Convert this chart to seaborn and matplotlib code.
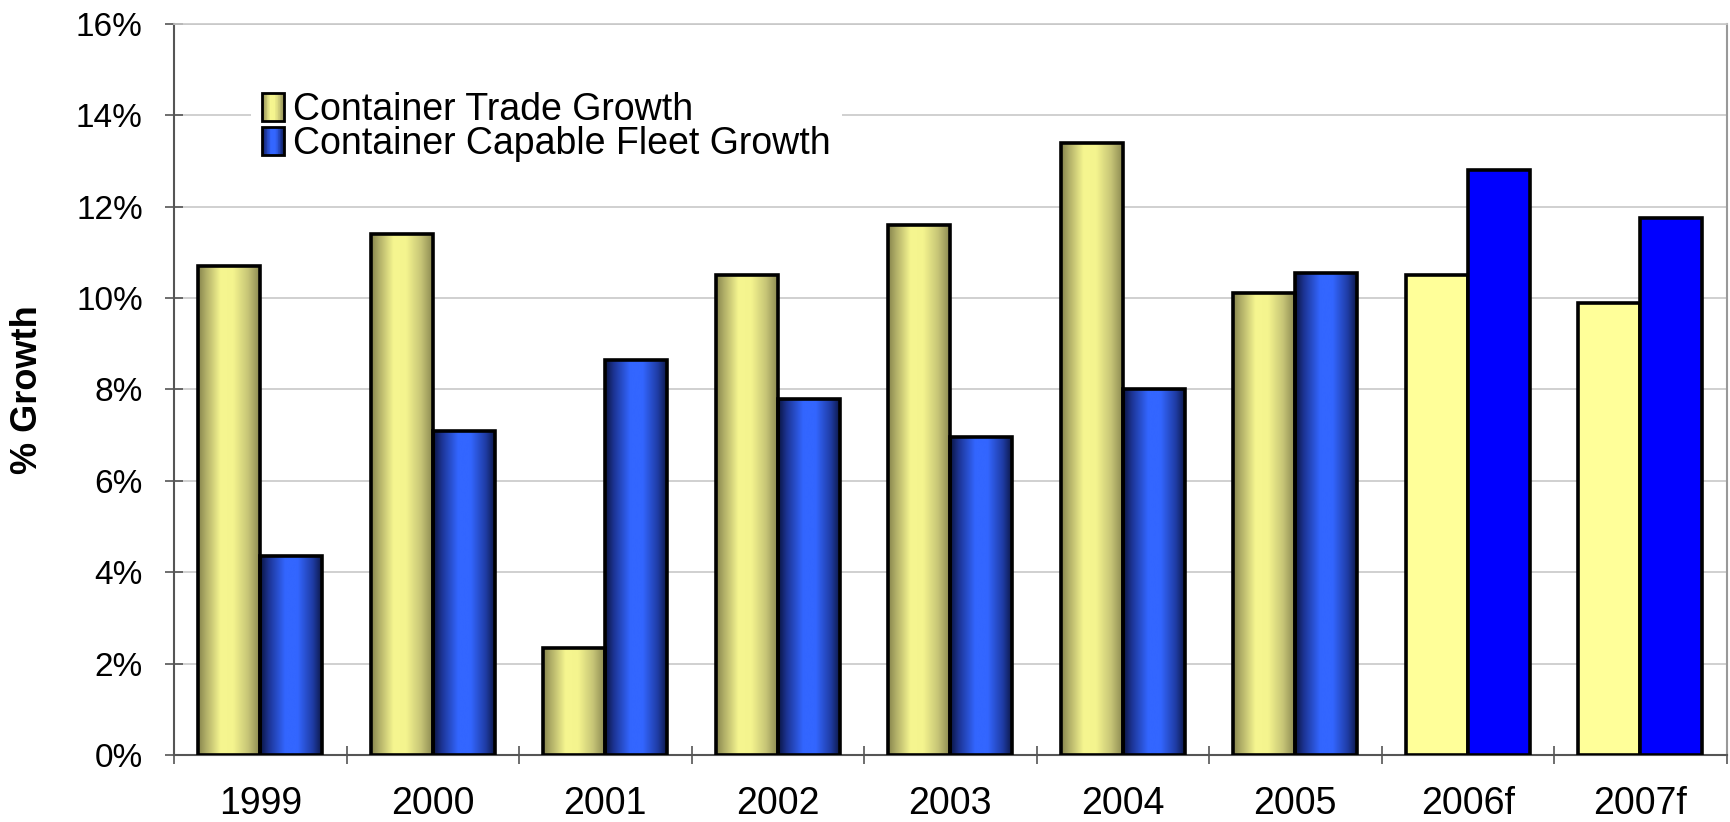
import numpy as np
import pandas as pd
import matplotlib
matplotlib.use("Agg")
import matplotlib.pyplot as plt
import seaborn as sns
from matplotlib.colors import LinearSegmentedColormap
from matplotlib.patches import Rectangle
from matplotlib.legend_handler import HandlerBase
from matplotlib.ticker import FixedLocator

# ---- data ----
years = ["1999", "2000", "2001", "2002", "2003", "2004", "2005", "2006f", "2007f"]
trade_growth = [10.7, 11.4, 2.35, 10.5, 11.6, 13.4, 10.1, 10.5, 9.9]
fleet_growth = [4.35, 7.1, 8.65, 7.8, 6.95, 8.0, 10.55, 12.8, 11.75]
series_names = ["Container Trade Growth", "Container Capable Fleet Growth"]
forecast_years = ["2006f", "2007f"]
y_ticks = [0, 2, 4, 6, 8, 10, 12, 14, 16]
y_tick_labels = ["0%", "2%", "4%", "6%", "8%", "10%", "12%", "14%", "16%"]

sns.set_theme(style="white")
plt.rcParams['font.family'] = ['Liberation Sans', 'DejaVu Sans']
plt.rcParams['text.color'] = 'black'
plt.rcParams['axes.labelcolor'] = 'black'
plt.rcParams['xtick.color'] = 'black'
plt.rcParams['ytick.color'] = 'black'

df = pd.DataFrame({
    "Year": years * 2,
    "Growth": trade_growth + fleet_growth,
    "Series": [series_names[0]] * len(years) + [series_names[1]] * len(years),
})

solid_colors = ["#ffff99", "#0000ff"]
ycmap = LinearSegmentedColormap.from_list("yg", [
    (0.0, "#86844c"), (0.12, "#aeac66"), (0.36, "#f6f690"), (0.56, "#f4f48e"),
    (0.8, "#c6c476"), (1.0, "#86844e")])
bcmap = LinearSegmentedColormap.from_list("bg", [
    (0.0, "#0a1440"), (0.14, "#1c3494"), (0.4, "#3366ff"), (0.6, "#3366ff"),
    (0.84, "#1f3ca4"), (1.0, "#0a1440")])
cmaps = [ycmap, bcmap]

fig = plt.figure(figsize=(17.3, 8.22), dpi=100)
ax = fig.add_axes([0.1006, 0.0815, 0.8974, 0.8895])

sns.barplot(data=df, x="Year", y="Growth", hue="Series", order=years,
            hue_order=series_names, palette=solid_colors, saturation=1,
            width=0.72, gap=0, errorbar=None, edgecolor="black",
            linewidth=2.6, legend=False, ax=ax)

grad = np.linspace(0, 1, 256).reshape(1, -1)
for p in list(ax.patches):
    x0 = p.get_x(); w = p.get_width(); h = p.get_height()
    cx = x0 + w / 2
    idx = int(round(cx))
    hue_i = 0 if cx < idx else 1
    p.set_zorder(3)
    if years[idx] in forecast_years:
        continue
    im = ax.imshow(grad, cmap=cmaps[hue_i], extent=[x0, x0 + w, 0, h],
                   aspect="auto", origin="lower", zorder=2.5,
                   interpolation="bicubic")
    im.set_clip_path(p)
    p.set_facecolor("none")

ax.set_xlim(-0.5, len(years) - 0.5)
ax.set_ylim(0, 16)
ax.set_aspect("auto")

ax.set_yticks(y_ticks)
ax.set_yticklabels(y_tick_labels)
ax.yaxis.grid(True, color="#c8c8c8", lw=1.2)
ax.set_axisbelow(True)

ax.xaxis.set_minor_locator(FixedLocator(np.arange(-0.5, len(years), 1.0)))
ax.tick_params(axis="x", which="major", length=0, labelsize=27, pad=22)
ax.tick_params(axis="x", which="minor", bottom=True, direction="inout",
               length=13, width=1.2, color="#555555")
ax.tick_params(axis="y", which="major", left=True, direction="inout",
               length=13, width=1.2, color="#555555", labelsize=24, pad=16)

for s in ["left", "bottom"]:
    ax.spines[s].set_color("#555555"); ax.spines[s].set_linewidth(1.5)
ax.spines["right"].set_color("#999999"); ax.spines["right"].set_linewidth(1.5)
ax.spines["top"].set_color("#c8c8c8"); ax.spines["top"].set_linewidth(1.2)

ax.set_xlabel("")
ax.set_ylabel("% Growth", fontsize=26, fontweight="bold")
ax.yaxis.set_label_coords(-0.083, 0.5)


class GradHandler(HandlerBase):
    def __init__(self, cmap, n=30):
        super().__init__()
        self.cmap = cmap
        self.n = n

    def create_artists(self, legend, orig_handle, xdescent, ydescent,
                       width, height, fontsize, trans):
        arts = []
        for i in range(self.n):
            c = self.cmap((i + 0.5) / self.n)
            arts.append(Rectangle((-xdescent + width * i / self.n, -ydescent),
                                  width / self.n * 1.05, height, facecolor=c,
                                  edgecolor="none", transform=trans))
        arts.append(Rectangle((-xdescent, -ydescent), width, height,
                              facecolor="none", edgecolor="black", lw=2.0,
                              transform=trans))
        return arts


h1 = Rectangle((0, 0), 1, 1)
h2 = Rectangle((0, 0), 1, 1)
leg = ax.legend(handles=[h1, h2], labels=series_names,
                handler_map={h1: GradHandler(ycmap), h2: GradHandler(bcmap)},
                loc="upper left", bbox_to_anchor=(0.0496, 0.922),
                fontsize=27, frameon=True, facecolor="white", edgecolor="none",
                framealpha=1, fancybox=False, handlelength=0.58,
                handleheight=0.78, handletextpad=0.25, labelspacing=-0.05,
                borderpad=0.3, borderaxespad=0)
leg.set_zorder(5)

fig.savefig("out.png", dpi=100)
